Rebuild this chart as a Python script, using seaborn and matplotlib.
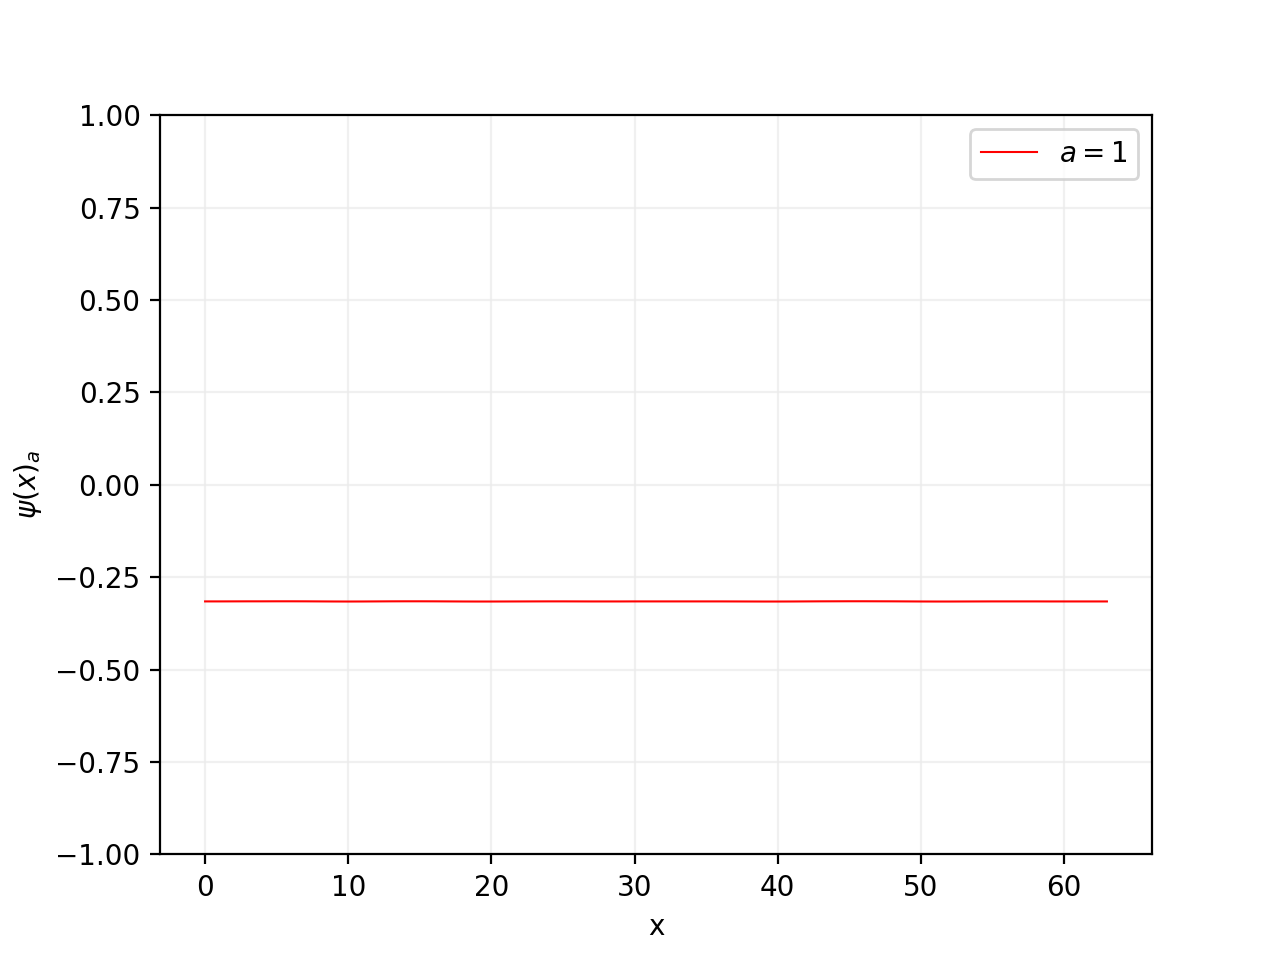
import numpy as np
import pandas as pd
import matplotlib
matplotlib.use("Agg")
import matplotlib.pyplot as plt
import seaborn as sns

x_vals = list(range(64))
psi_vals = [
    -0.3155, -0.3155, -0.3154, -0.3153, -0.3153, -0.3152, -0.3152, -0.3153,
    -0.3155, -0.3157, -0.3158, -0.3157, -0.3155, -0.3153, -0.3152, -0.3152,
    -0.3153, -0.3155, -0.3157, -0.3158, -0.3158, -0.3157, -0.3156, -0.3155,
    -0.3154, -0.3154, -0.3155, -0.3156, -0.3156, -0.3156, -0.3155, -0.3155,
    -0.3155, -0.3155, -0.3155, -0.3155, -0.3155, -0.3156, -0.3157, -0.3158,
    -0.3158, -0.3157, -0.3155, -0.3153, -0.3152, -0.3151, -0.3151, -0.3152,
    -0.3153, -0.3155, -0.3157, -0.3158, -0.3158, -0.3157, -0.3156, -0.3155,
    -0.3155, -0.3155, -0.3155, -0.3156, -0.3156, -0.3156, -0.3156, -0.3156,
]
label = r"$a = 1$"

df = pd.DataFrame({"x": x_vals, "psi": psi_vals})

fig, ax = plt.subplots(figsize=(6.4, 4.8), dpi=200)
sns.lineplot(data=df, x="x", y="psi", color="red", linewidth=0.75, label=label, ax=ax)
ax.set_ylim(-1, 1)
ax.set_xlabel("x")
ax.set_ylabel(r"$\psi(x)_a$")
ax.grid(True, color="#ebebeb", alpha=0.7, linewidth=0.8)
ax.legend(loc="upper right")
fig.savefig("out.png", dpi=200)
